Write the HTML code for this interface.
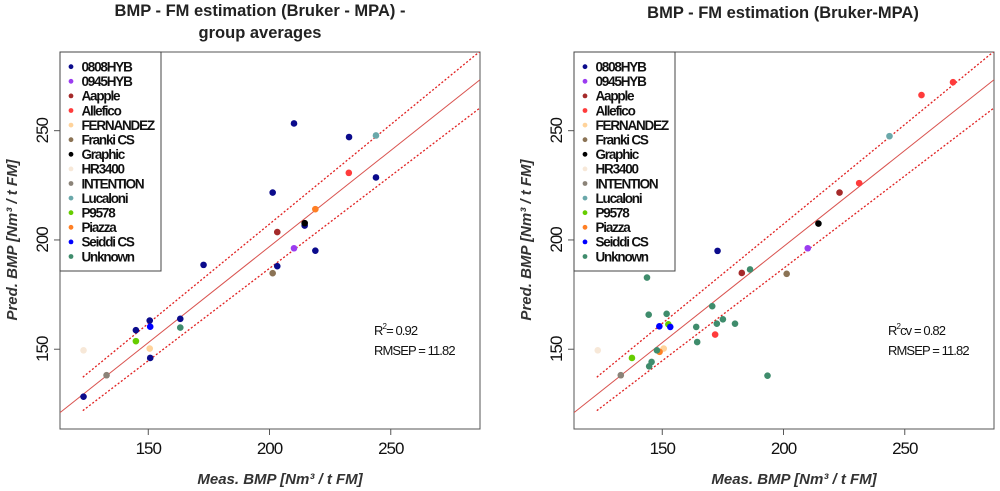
<!DOCTYPE html>
<html><head><meta charset="utf-8"><style>
html,body{margin:0;padding:0;background:#fff;width:1000px;height:491px;overflow:hidden}
svg{display:block;font-family:"Liberation Sans",Arial,sans-serif}
</style></head><body>
<svg id="chart" width="1000" height="491" viewBox="0 0 1000 491"></svg>
<script>
const groups=["0808HYB","0945HYB","Aapple","Allefico","FERNANDEZ","Franki CS","Graphic","HR3400","INTENTION","Lucaloni","P9578","Piazza","Seiddi CS","Unknown"];
const groupColors=["#0b0b8c","#9b3cf0","#a52a2a","#ff3b3b","#ffd39b","#8b7355","#000000","#f7e8d8","#8b8378","#6aa8aa","#66cd00","#ff7f24","#0000ff","#3f8c6c"];
const ticks=[150,200,250];
const fitLine=[[113.6,121],[286.8,273.3]];
const upperBand=[[123,137.2],[286.8,286.3]];
const lowerBand=[[123,121.9],[286.8,260.4]];
// left: group averages [group index, measured, predicted]
const leftGroup=[0,0,0,0,0,0,0,0,0,0,0,0,0,1,2,3,4,5,6,7,8,9,10,11,12,13];
const leftMeas=[210.1,232.8,243.9,201.3,172.8,214.5,218.9,203.2,163.2,150.6,144.9,150.8,123.3,210.1,203.2,232.7,150.6,201.3,214.5,123.3,132.8,243.9,144.9,218.9,150.8,163.2];
const leftPred=[253.3,247.1,228.6,221.7,188.6,206.6,195.1,188.0,163.9,163.1,158.7,146.0,128.3,196.2,203.6,230.7,150.3,184.8,207.7,149.5,138.1,247.8,153.7,214.1,160.3,159.9];
// right: individual samples
const rightGroup=[0,1,2,2,3,3,3,3,4,5,6,7,8,9,10,10,11,12,12,13,13,13,13,13,13,13,13,13,13,13,13,13,13];
const rightMeas=[172.8,210,223.1,182.8,269.9,256.9,231.2,171.8,150.6,201.3,214.4,123.4,132.9,243.7,137.5,152.5,148.9,148.8,153.3,143.7,144.4,151.8,170.6,186.2,164,164.4,172.5,175,180,147.8,145.6,144.6,193.4];
const rightPred=[195,196.2,221.7,184.9,272.2,266.3,226,156.7,150.3,184.5,207.5,149.5,138.1,247.5,146,161.4,148.8,160.5,160.2,182.8,165.8,166.2,169.7,186.5,160.2,153.3,161.7,163.7,161.7,149.5,144.2,142.2,137.9];

const NS="http://www.w3.org/2000/svg";
const svg=document.getElementById('chart');
function mk(tag,attrs,parent,text){const e=document.createElementNS(NS,tag);for(const k in attrs)e.setAttribute(k,attrs[k]);if(text!==undefined)e.textContent=text;(parent||svg).appendChild(e);return e;}

function panel(opt){
  const g=mk('g',{});
  
  
  const L=opt.left,R=opt.right,T=52,B=429;
  const xmin=113.6,xmax=286.8,ymin=113.5,ymax=286;
  const X=v=>L+(v-xmin)/(xmax-xmin)*(R-L);
  const Y=v=>B-(v-ymin)/(ymax-ymin)*(B-T);
  opt.title.forEach((t,i)=>{const e=mk('text',{x:(L+R)/2+opt.titleDx,y:opt.titleY+i*22,'text-anchor':'middle','font-size':'16.5','font-weight':'bold',fill:'#222'},g,t);
    });
  const box=mk('rect',{x:L,y:T,width:R-L,height:B-T,fill:'none',stroke:'#555','stroke-width':1},g);
  
  ticks.forEach(t=>{
    mk('line',{x1:X(t),x2:X(t),y1:B,y2:B+6,stroke:'#555'},g);
    const xl=mk('text',{x:X(t),y:B+25,'text-anchor':'middle','font-size':'17',fill:'#111','letter-spacing':'-1'},g,String(t));
    
    mk('line',{x1:L-6,x2:L,y1:Y(t),y2:Y(t),stroke:'#555'},g);
    const yl=mk('text',{x:L-12,y:Y(t),'text-anchor':'middle','font-size':'17',fill:'#111','letter-spacing':'-1',transform:`rotate(-90 ${L-12} ${Y(t)})`},g,String(t));
    
  });
  const xt=mk('text',{x:(L+R)/2+10,y:484,'text-anchor':'middle','font-size':'15','font-style':'italic','font-weight':'bold',fill:'#333'},g,'Meas. BMP [Nm³ / t FM]');
  
  const yx=L-43,yy=240;
  const yt=mk('text',{x:yx,y:yy,'text-anchor':'middle','font-size':'15','font-style':'italic','font-weight':'bold',fill:'#333',transform:`rotate(-90 ${yx} ${yy})`},g,'Pred. BMP [Nm³ / t FM]');
  
  const cid='clip'+opt.name;
  const cp=mk('clipPath',{id:cid},g);mk('rect',{x:L,y:T,width:R-L,height:B-T},cp);
  const fl=mk('line',{x1:X(fitLine[0][0]),y1:Y(fitLine[0][1]),x2:X(fitLine[1][0]),y2:Y(fitLine[1][1]),stroke:'#d9534f','stroke-width':1,'clip-path':`url(#${cid})`},g);
  
  [upperBand,lowerBand].forEach((b,i)=>{const e=mk('line',{x1:X(b[0][0]),y1:Y(b[0][1]),x2:X(b[1][0]),y2:Y(b[1][1]),stroke:'#e02020','stroke-width':1.3,'stroke-dasharray':'2 2','clip-path':`url(#${cid})`},g);
    });
  opt.meas.forEach((m,i)=>{const c=mk('circle',{cx:X(m),cy:Y(opt.pred[i]),r:3.3,fill:groupColors[opt.grp[i]]},g);
    
    });
  const lg=mk('g',{},g);
  
  mk('rect',{x:L,y:T,width:101,height:219,fill:'#fff',stroke:'#444','stroke-width':1},lg);
  groups.forEach((n,i)=>{const yy=T+14.7+i*14.6;
    const eg=mk('g',{},lg);
    mk('circle',{cx:L+11,cy:yy,r:2.4,fill:groupColors[i]},eg);
    mk('text',{x:L+21.5,y:yy+4.8,'font-size':'13.5','font-weight':'bold','letter-spacing':'-1.2',fill:'#111'},eg,n);});
  const st=mk('g',{},g);
  const t1=mk('text',{x:L+314,y:335,'font-size':'13','letter-spacing':'-0.9',fill:'#111'},st);
  mk('tspan',{},t1,'R');mk('tspan',{dy:'-6','font-size':'8'},t1,'2');mk('tspan',{dy:'6'},t1,opt.r2);
  mk('text',{x:L+314,y:355,'font-size':'13','letter-spacing':'-0.9',fill:'#111'},st,'RMSEP = 11.82');
}
panel({name:'left-panel',left:60,right:480,title:['BMP - FM estimation (Bruker - MPA) -','group averages'],titleY:16,titleDx:-10,grp:leftGroup,meas:leftMeas,pred:leftPred,r2:'= 0.92'});
panel({name:'right-panel',left:574,right:994,title:['BMP - FM estimation (Bruker-MPA)'],titleY:18,titleDx:-1,grp:rightGroup,meas:rightMeas,pred:rightPred,r2:'cv = 0.82'});
</script>
</body></html>
